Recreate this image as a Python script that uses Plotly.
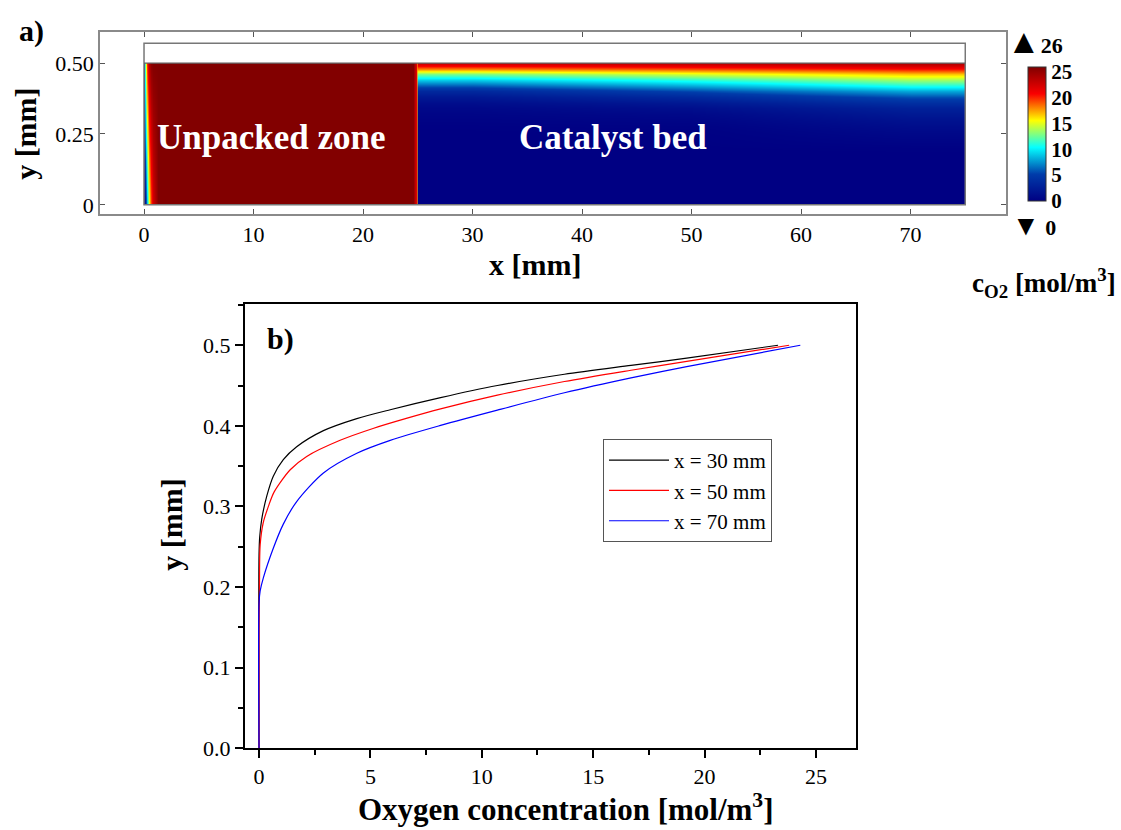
import numpy as np
import plotly.graph_objects as go

# ---------------------------------------------------------------------------
# O2 concentration profiles across the channel height in the catalyst bed
# (y in mm, c in mol/m^3) at three axial positions
# ---------------------------------------------------------------------------
Y_30 = [0.0, 0.240, 0.262, 0.284, 0.313, 0.3375, 0.358, 0.374, 0.394, 0.409,
        0.420, 0.435, 0.450, 0.464, 0.475, 0.484, 0.500]
C_30 = [0.0, 0.0, 0.03, 0.12, 0.35, 0.64, 1.09, 1.69, 2.89, 4.39,
        5.89, 8.15, 10.7, 13.71, 16.7, 19.2, 23.3]

Y_50 = [0.0, 0.146, 0.200, 0.252, 0.280, 0.300, 0.318, 0.3455, 0.362, 0.382,
        0.397, 0.4095, 0.421, 0.438, 0.455, 0.469, 0.480, 0.500]
C_50 = [0.0, 0.0, 0.02, 0.05, 0.19, 0.42, 0.68, 1.40, 2.14, 3.64,
        5.15, 6.65, 8.15, 10.7, 13.71, 16.7, 19.2, 23.8]

Y_70 = [0.0, 0.180, 0.195, 0.211, 0.248, 0.278, 0.306, 0.3415, 0.366, 0.382,
        0.4005, 0.4195, 0.441, 0.4595, 0.4735, 0.500]
C_70 = [0.0, 0.0, 0.05, 0.19, 0.64, 1.09, 1.69, 2.89, 4.39, 5.89,
        8.15, 10.7, 13.71, 16.7, 19.2, 24.3]

SERIES_NAMES = ["x = 30 mm", "x = 50 mm", "x = 70 mm"]
SERIES_COLORS = ["#000000", "#ff0000", "#0000ff"]

# ---------------------------------------------------------------------------
# Unpacked zone field: entry profile along x at the bottom and top walls
# ---------------------------------------------------------------------------
UNPACKED_X = [0.0, 0.01, 0.12, 0.25, 0.45, 0.62, 0.82, 1.05, 1.30, 24.60, 24.85, 24.97, 25.0]
C_UNPACKED_BOTTOM = [0.0, 0.0, 2.0, 9.0, 15.5, 19.5, 22.5, 24.5, 25.9, 25.9, 22.0, 18.0, 18.0]
C_UNPACKED_TOP = [0.0, 3.0, 12.0, 20.0, 24.0, 25.5, 25.9, 25.9, 25.9, 25.9, 22.0, 18.0, 18.0]
UNPACKED_Y = [0.0, 0.001, 0.499, 0.5]

# Catalyst bed field: axial columns and the profile that applies to each
BED_X = [25.0, 25.01, 30.0, 50.0, 70.0, 74.99, 75.0]
BED_PROFILE = ["30", "30", "30", "50", "70", "70", "70"]
BED_Y = [0.0, 0.001, 0.05, 0.10, 0.15, 0.18, 0.20, 0.22, 0.24, 0.26, 0.28, 0.30,
         0.32, 0.34, 0.36, 0.38, 0.40, 0.42, 0.44, 0.46, 0.48, 0.49, 0.499, 0.5]

# Geometry of the channel (mm)
CHANNEL_LENGTH = 75.0
CHANNEL_HEIGHT = 0.5
DOMAIN_TOP = 0.57

# Tick labels
A_XTICKS = [0, 10, 20, 30, 40, 50, 60, 70]
A_YTICKS = [0, 0.25, 0.5]
A_YTICKTEXT = ["0", "0.25", "0.50"]
CBAR_TICKS = [0, 5, 10, 15, 20, 25]
C_MIN, C_MAX = 0, 26

SERIF = "Liberation Serif, Times New Roman, serif"
W, H = 1121, 830

profiles = {"30": (Y_30, C_30), "50": (Y_50, C_50), "70": (Y_70, C_70)}

z_unpacked = [C_UNPACKED_BOTTOM, C_UNPACKED_BOTTOM, C_UNPACKED_TOP, C_UNPACKED_TOP]
z_bed = [[float(np.interp(yv, profiles[p][0], profiles[p][1])) for p in BED_PROFILE]
         for yv in BED_Y]

fig = go.Figure()

fig.add_trace(go.Heatmap(x=UNPACKED_X, y=UNPACKED_Y, z=z_unpacked, zsmooth="best",
                         coloraxis="coloraxis", xaxis="x", yaxis="y",
                         hoverinfo="skip", showlegend=False))
fig.add_trace(go.Heatmap(x=BED_X, y=BED_Y, z=z_bed, zsmooth="best",
                         coloraxis="coloraxis", xaxis="x", yaxis="y",
                         hoverinfo="skip", showlegend=False))

for name, color, (yy, cc) in zip(SERIES_NAMES, SERIES_COLORS,
                                 [(Y_30, C_30), (Y_50, C_50), (Y_70, C_70)]):
    fig.add_trace(go.Scatter(x=cc, y=yy, mode="lines", name=name,
                             line=dict(color=color, width=1.2, shape="spline",
                                       smoothing=0.8),
                             xaxis="x2", yaxis="y2"))


def px_x(p):
    return p / W


def px_y(p):
    return (H - p) / H


frame_grey = "#8a8a8a"
tickfont = dict(family=SERIF, size=22, color="black")

fig.update_layout(
    width=W, height=H,
    margin=dict(l=0, r=0, t=0, b=0),
    paper_bgcolor="white", plot_bgcolor="white",
    font=dict(family=SERIF, color="black"),
    xaxis=dict(domain=[px_x(100), px_x(1006)], range=[-4.02, 78.72], anchor="y",
               tickvals=A_XTICKS, ticks="inside", ticklen=5, tickcolor="#555",
               showline=True, linecolor=frame_grey, linewidth=1.5, mirror="allticks",
               showgrid=False, zeroline=False, tickfont=tickfont),
    yaxis=dict(domain=[px_y(217), px_y(33)], range=[-0.031, 0.608], anchor="x",
               tickvals=A_YTICKS, ticktext=A_YTICKTEXT, ticks="inside", ticklen=5,
               tickcolor="#555", showline=True, linecolor=frame_grey, linewidth=1.5,
               mirror="allticks", showgrid=False, zeroline=False, tickfont=tickfont),
    xaxis2=dict(domain=[px_x(245), px_x(856)], range=[-0.63, 26.8], anchor="y2",
                tick0=0, dtick=5, ticks="outside", ticklen=8, tickwidth=2,
                tickcolor="black",
                minor=dict(dtick=2.5, ticks="outside", ticklen=5, tickwidth=2,
                           tickcolor="black"),
                showline=True, linecolor="black", linewidth=2, mirror=True,
                showgrid=False, zeroline=False, tickfont=tickfont),
    yaxis2=dict(domain=[px_y(760), px_y(309)], range=[0, 0.551], anchor="x2",
                tick0=0, dtick=0.1, tickformat=".1f", ticks="outside", ticklen=8,
                tickwidth=2, tickcolor="black",
                minor=dict(dtick=0.05, ticks="outside", ticklen=5, tickwidth=2,
                           tickcolor="black"),
                showline=True, linecolor="black", linewidth=2, mirror=True,
                showgrid=False, zeroline=False, tickfont=tickfont),
    coloraxis=dict(
        colorscale="Jet", cmin=C_MIN, cmax=C_MAX,
        colorbar=dict(x=px_x(1028), xanchor="left", xpad=0,
                      y=px_y(136), yanchor="middle", ypad=0,
                      len=134, lenmode="pixels", thickness=18, thicknessmode="pixels",
                      outlinewidth=1, outlinecolor="#333",
                      tickvals=CBAR_TICKS, ticks="",
                      tickfont=dict(family=SERIF, size=21, color="black", weight="bold")),
    ),
    legend=dict(x=px_x(603), y=px_y(446), xanchor="left", yanchor="top",
                bgcolor="white", bordercolor="#555", borderwidth=1,
                itemwidth=60,
                font=dict(family=SERIF, size=21, color="black")),
    showlegend=True,
)

# Channel outline and the top boundary of the flow domain
fig.add_shape(type="rect", xref="x", yref="y", x0=0, x1=CHANNEL_LENGTH, y0=0, y1=DOMAIN_TOP,
              line=dict(color="#777", width=1.5), layer="above")
fig.add_shape(type="line", xref="x", yref="y", x0=0, x1=CHANNEL_LENGTH,
              y0=CHANNEL_HEIGHT, y1=CHANNEL_HEIGHT,
              line=dict(color="#666", width=1.2), layer="above")


def note(text, x, y, size, color="black", angle=0, xref="paper", yref="paper",
         yanchor="middle"):
    fig.add_annotation(text=text, x=x, y=y, xref=xref, yref=yref, showarrow=False,
                       textangle=angle, xanchor="center", yanchor=yanchor,
                       font=dict(family=SERIF, size=size, color=color))


# Panel a
note("<b>a)</b>", px_x(31), px_y(32), 30)
note("<b>Unpacked zone</b>", 11.6, 0.236, 35, color="white", xref="x", yref="y")
note("<b>Catalyst bed</b>", 42.8, 0.236, 35, color="white", xref="x", yref="y")
note("<b>x [mm]</b>", px_x(535), px_y(269), 30)
note("<b>y [mm]</b>", px_x(26), px_y(136), 30, angle=-90)
note("<span style='font-size:34px'>▲</span><b>26</b>", px_x(1035), px_y(42), 22)
note("<span style='font-size:28px'>▼</span> <b>0</b>", px_x(1034), px_y(211), 22,
     yanchor="top")
note("<b>c<sub>O2</sub> [mol/m<sup>3</sup>]</b>", px_x(1044), px_y(287), 27)

# Panel b
note("<b>b)</b>", px_x(280), px_y(344), 30)
note("<b>y [mm]</b>", px_x(172), px_y(533), 30, angle=-90)
note("<b>Oxygen concentration [mol/m<sup>3</sup>]</b>", px_x(566), px_y(820), 31)

fig.write_html("out.html")
